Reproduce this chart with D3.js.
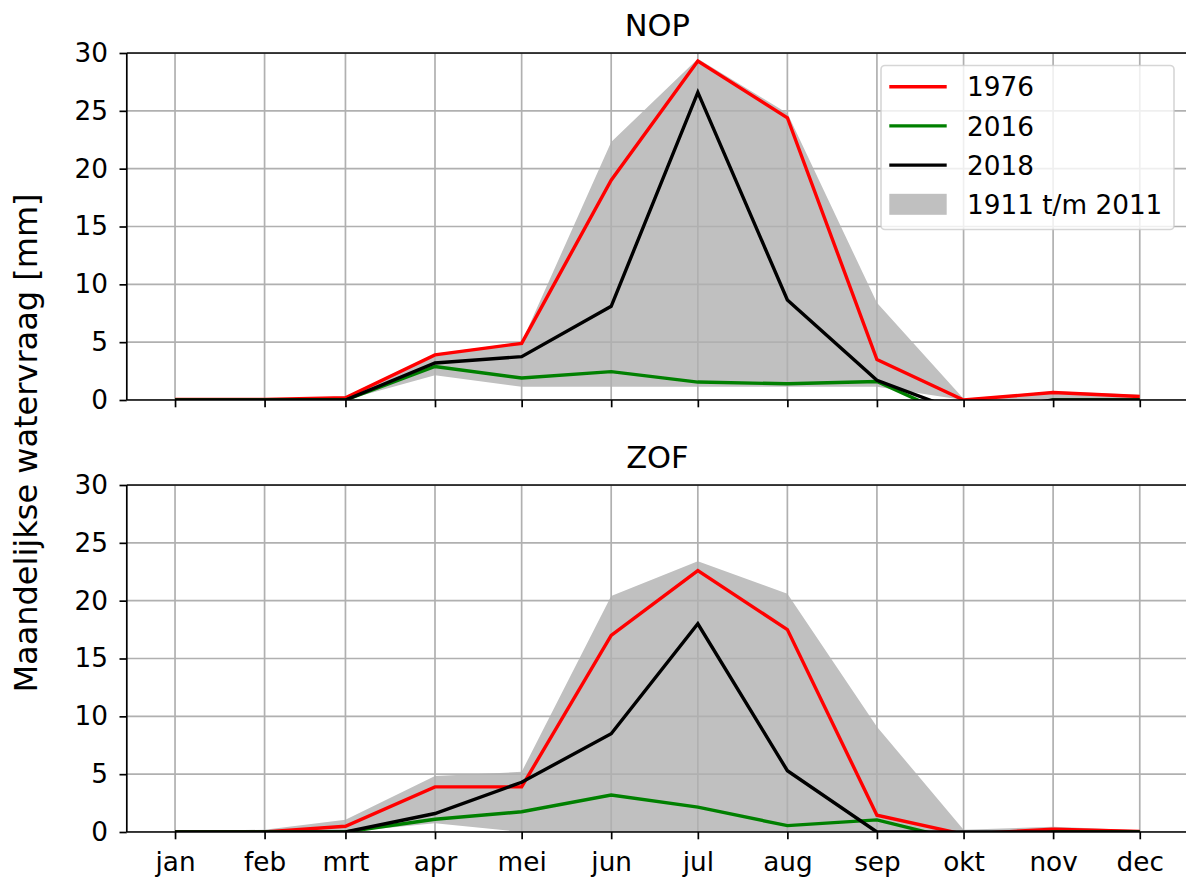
<!DOCTYPE html>
<html>
<head>
<meta charset="utf-8">
<script src="https://cdn.jsdelivr.net/npm/d3@7"></script>
<style>
  html, body { margin: 0; padding: 0; background: #fff; }
  svg { display: block; font-family: "DejaVu Sans", sans-serif; }
</style>
</head>
<body>
<svg id="chart" width="1186" height="878"></svg>
<script>
// Monthly water demand (mm) per region, first day of each month
const monthLabels = ["jan", "feb", "mrt", "apr", "mei", "jun", "jul", "aug", "sep", "okt", "nov", "dec"];
const yTicks = [0, 5, 10, 15, 20, 25, 30];

// NOP
const nop1976 = [0.05, 0.05, 0.2, 3.9, 4.9, 19.0, 29.3, 24.4, 3.5, 0.0, 0.65, 0.3];
const nop2016 = [0, 0, 0, 2.9, 1.9, 2.45, 1.55, 1.4, 1.6, -1.8, 0, 0];
const nop2018 = [0, 0, 0, 3.2, 3.75, 8.1, 26.6, 8.65, 1.7, -1.1, 0, 0];
const nopMin  = [0, 0, 0, 2.15, 1.15, 1.15, 1.15, 1.15, 1.15, 0, 0, 0];
const nopMax  = [0.05, 0.1, 0.3, 4.0, 5.0, 22.3, 29.5, 24.8, 8.4, 0.1, 0.75, 0.45];

// ZOF
const zof1976 = [0, 0, 0.5, 3.9, 3.9, 17.0, 22.6, 17.5, 1.45, -0.2, 0.25, 0.05];
const zof2016 = [0, 0, 0, 1.1, 1.75, 3.2, 2.15, 0.55, 1.05, -0.8, 0, 0];
const zof2018 = [0, 0, 0, 1.6, 4.3, 8.5, 18.0, 5.3, 0, 0, 0, 0];
const zofMin  = [0, 0, 0, 0.75, 0, 0, 0, 0, 0, 0, 0, 0];
const zofMax  = [0.05, 0.2, 1.05, 4.85, 5.2, 20.4, 23.4, 20.6, 9.1, 0.2, 0.45, 0.15];

const seriesStyle = [
  { name: "1976", color: "#ff0000" },
  { name: "2016", color: "#008000" },
  { name: "2018", color: "#000000" }
];
const bandLabel = "1911 t/m 2011";
const bandColor = "#c0c0c0";

const dates = monthLabels.map((m, i) => new Date(Date.UTC(2018, i, 1)));
const span = dates[11] - dates[0];

const svg = d3.select("#chart");
const left = 126.8, right = 1188;

const x = d3.scaleUtc()
  .domain([new Date(+dates[0] - 0.05 * span), new Date(+dates[11] + 0.05 * span)])
  .range([left, right]);

const panels = [
  { title: "NOP", top: 53, bottom: 400, lines: [nop1976, nop2016, nop2018], lo: nopMin, hi: nopMax, labels: false, legend: true },
  { title: "ZOF", top: 485, bottom: 832, lines: [zof1976, zof2016, zof2018], lo: zofMin, hi: zofMax, labels: true, legend: false }
];

const gridColor = "#b0b0b0";
const spineW = 1.7, gridW = 1.7, lineW = 3.4, tickLen = 7.3;
const labelSize = 26.3, titleSize = 30.5;

panels.forEach((p, pi) => {
  const y = d3.scaleLinear().domain([0, 30]).range([p.bottom, p.top]);
  const g = svg.append("g");
  const clipId = "clip" + pi;
  svg.append("clipPath").attr("id", clipId)
    .append("rect").attr("x", left).attr("y", p.top)
    .attr("width", right - left).attr("height", p.bottom - p.top);

  const plot = g.append("g").attr("clip-path", `url(#${clipId})`);

  // min-max band
  const area = d3.area()
    .x((d, i) => x(dates[i]))
    .y0((d, i) => y(p.lo[i]))
    .y1((d, i) => y(p.hi[i]));
  plot.append("path").datum(p.hi).attr("d", area).attr("fill", bandColor);

  // grid
  plot.selectAll(".vgrid").data(dates).join("line")
    .attr("x1", d => x(d)).attr("x2", d => x(d))
    .attr("y1", p.top).attr("y2", p.bottom)
    .attr("stroke", gridColor).attr("stroke-width", gridW);
  plot.selectAll(".hgrid").data(yTicks).join("line")
    .attr("x1", left).attr("x2", right)
    .attr("y1", d => y(d)).attr("y2", d => y(d))
    .attr("stroke", gridColor).attr("stroke-width", gridW);

  // year lines
  const line = d3.line().x((d, i) => x(dates[i])).y(d => y(d));
  p.lines.forEach((vals, k) => {
    plot.append("path").datum(vals).attr("d", line)
      .attr("fill", "none").attr("stroke", seriesStyle[k].color)
      .attr("stroke-width", lineW).attr("stroke-linejoin", "miter");
  });

  // spines
  g.append("line").attr("x1", left).attr("x2", left).attr("y1", p.top).attr("y2", p.bottom)
    .attr("stroke", "#000").attr("stroke-width", spineW);
  g.append("line").attr("x1", left).attr("x2", right).attr("y1", p.top).attr("y2", p.top)
    .attr("stroke", "#000").attr("stroke-width", spineW);
  g.append("line").attr("x1", left).attr("x2", right).attr("y1", p.bottom).attr("y2", p.bottom)
    .attr("stroke", "#000").attr("stroke-width", spineW);
  g.append("line").attr("x1", right).attr("x2", right).attr("y1", p.top).attr("y2", p.bottom)
    .attr("stroke", "#000").attr("stroke-width", spineW);

  // y axis
  const ya = g.append("g").attr("transform", `translate(${left},0)`)
    .call(d3.axisLeft(y).tickValues(yTicks).tickSize(tickLen).tickSizeOuter(0).tickPadding(11.5));
  ya.select(".domain").remove();
  ya.selectAll(".tick line").attr("stroke", "#000").attr("stroke-width", spineW);
  ya.selectAll(".tick text").attr("font-size", labelSize).attr("fill", "#000")
    .attr("font-family", "DejaVu Sans");

  // x axis
  const xa = g.append("g").attr("transform", `translate(0,${p.bottom})`)
    .call(d3.axisBottom(x).tickValues(dates).tickFormat((d, i) => p.labels ? monthLabels[i] : "")
      .tickSize(tickLen).tickSizeOuter(0));
  xa.select(".domain").remove();
  xa.selectAll(".tick line").attr("stroke", "#000").attr("stroke-width", spineW);
  xa.selectAll(".tick text").attr("font-size", labelSize).attr("fill", "#000")
    .attr("font-family", "DejaVu Sans").attr("y", 38.5).attr("dy", 0);

  // title
  svg.append("text").attr("x", (left + right) / 2).attr("y", p.top - 17.5)
    .attr("text-anchor", "middle").attr("font-size", titleSize).attr("fill", "#000").text(p.title);

  if (p.legend) {
    const lg = svg.append("g");
    lg.append("rect").attr("x", 881).attr("y", 65.5).attr("width", 293).attr("height", 164)
      .attr("rx", 4).attr("fill", "#fff").attr("fill-opacity", 0.8)
      .attr("stroke", "#cccccc").attr("stroke-opacity", 0.8).attr("stroke-width", 1.6);
    const rowY = [86.7, 125.9, 165.1, 204.3];
    seriesStyle.forEach((s, k) => {
      lg.append("line").attr("x1", 889.3).attr("x2", 946.7).attr("y1", rowY[k]).attr("y2", rowY[k])
        .attr("stroke", s.color).attr("stroke-width", lineW);
      lg.append("text").attr("x", 967).attr("y", rowY[k] + 9.6).attr("font-size", labelSize)
        .attr("fill", "#000").text(s.name);
    });
    lg.append("rect").attr("x", 889.3).attr("y", rowY[3] - 10.5).attr("width", 57.4).attr("height", 21)
      .attr("fill", bandColor);
    lg.append("text").attr("x", 967).attr("y", rowY[3] + 9.6).attr("font-size", labelSize)
      .attr("fill", "#000").text(bandLabel);
  }
});

// shared y label
svg.append("text")
  .attr("transform", "translate(37,443) rotate(-90)")
  .attr("text-anchor", "middle").attr("font-size", 32).attr("fill", "#000")
  .text("Maandelijkse watervraag [mm]");
</script>
</body>
</html>
